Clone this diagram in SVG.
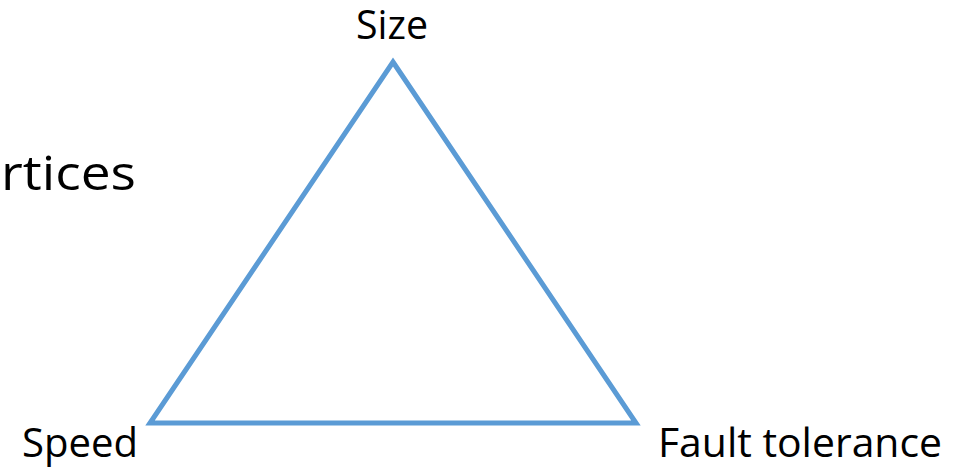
<svg xmlns="http://www.w3.org/2000/svg" width="968" height="469" viewBox="0 0 968 469">
<style>
.lbl{font-family:"Open Sans","Liberation Sans",sans-serif;font-size:40px;fill:#000}
.big{font-family:"Open Sans","Liberation Sans",sans-serif;font-size:47px;fill:#000}
.edge{fill:none;stroke:#5B9BD5;stroke-width:5;stroke-linejoin:miter}
</style>
<rect width="968" height="469" fill="#fff"/>
<text class="big" x="1" y="190" textLength="135" lengthAdjust="spacingAndGlyphs">rtices</text>
<g id="connectors">
<polygon class="edge" points="393,62 636,423 150,423"/>
</g>
<g id="node-size"><text class="lbl" x="356" y="39" textLength="72" lengthAdjust="spacingAndGlyphs">Size</text></g>
<g id="node-speed"><text class="lbl" x="22" y="457" textLength="116" lengthAdjust="spacingAndGlyphs">Speed</text></g>
<g id="node-fault"><text class="lbl" x="658" y="457" textLength="284" lengthAdjust="spacingAndGlyphs">Fault tolerance</text></g>
</svg>
